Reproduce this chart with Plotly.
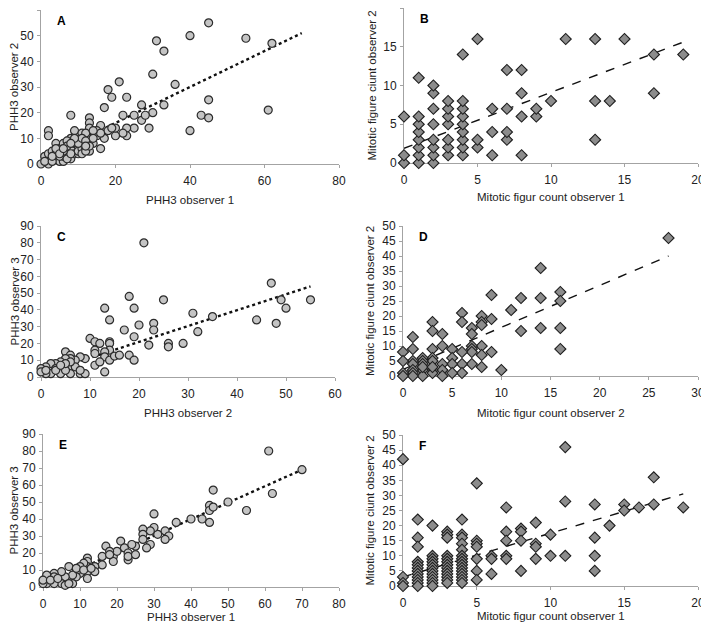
import plotly.graph_objects as go

# ---------------- DATA ----------------
# Panel A: PHH3 observer 1 (x) vs observer 2 (y)
A_x = [45, 40, 55, 62, 31, 33, 30, 36, 21, 18, 19, 23, 17, 27, 33, 45, 61, 43, 45, 40, 30, 27, 28, 29, 25, 22, 25, 23, 23, 22, 20, 20, 18, 16, 16, 17, 13, 13, 13, 13, 8, 2, 2, 9, 11, 8, 15, 15, 14, 16, 19, 12, 14,
       0, 1, 2, 2, 2, 3, 4, 4, 5, 6, 5, 6, 6, 7, 7, 8, 8, 9, 9, 10, 10, 10, 11, 11, 12, 12, 3, 4, 1, 3, 5, 7, 8, 10, 11, 12, 9, 6, 4, 3, 5, 7, 8, 6, 13, 14, 12]
A_y = [55, 50, 49, 47, 48, 44, 35, 31, 32, 29, 26, 26, 22, 23, 23, 25, 21, 19, 18, 13, 20, 17, 19, 14, 19, 19, 14, 14, 11, 12, 11, 14, 13, 15, 6, 10, 18, 16, 14, 5, 19, 13, 11, 13, 12, 10, 13, 11, 8, 12, 14, 12, 13,
       0, 3, 4, 1, 0, 5, 8, 2, 6, 8, 1, 1, 3, 5, 9, 6, 2, 4, 8, 7, 4, 5, 6, 4, 6, 5, 2, 4, 1, 1, 3, 2, 4, 8, 10, 9, 10, 5, 6, 3, 4, 7, 8, 6, 7, 10, 7]
A_trend_x = [0, 70]
A_trend_y = [2, 51]

# Panel B: mitotic figure count observer 1 (x) vs observer 2 (y)
B_x = [0, 0, 0,
       1, 1, 1, 1, 1, 1, 1, 1,
       2, 2, 2, 2, 2, 2, 2, 2,
       3, 3, 3, 3, 3, 3, 3,
       4, 4, 4, 4, 4, 4, 4, 4, 4,
       5, 5, 5, 6, 6, 6, 7, 7, 7, 7, 8, 8, 8, 8, 9, 9, 10, 11, 13, 13, 13, 14, 15, 17, 17, 19]
B_y = [0, 1, 6,
       0, 1, 2, 3, 4, 5, 6, 11,
       0, 1, 2, 3, 5, 7, 9, 10,
       1, 2, 3, 5, 6, 7, 8,
       1, 2, 3, 4, 5, 6, 7, 8, 14,
       2, 3, 16, 1, 4, 7, 3, 4, 7, 12, 1, 6, 9, 12, 6, 7, 8, 16, 3, 8, 16, 8, 16, 9, 14, 14]
B_trend_x = [0, 19]
B_trend_y = [1.9, 15.6]

# Panel C: PHH3 observer 2 (x) vs observer 3 (y)
C_x = [21, 47, 49, 55, 50, 44, 48, 35, 31, 32, 29, 26, 26, 25, 23, 23, 22, 20, 19, 18, 19, 18, 19, 17, 13, 14, 14, 14, 14, 13, 13, 14, 13, 15, 16,
       10, 11, 12, 11, 11, 11, 12, 9, 8, 7, 5, 6, 6, 5, 4, 3, 2, 1, 0, 3, 4, 5, 6, 7, 8, 9, 8, 6, 4, 2, 1, 0, 3, 5, 6, 5, 4, 1]
C_y = [80, 56, 46, 46, 41, 34, 32, 36, 38, 27, 20, 20, 18, 46, 32, 28, 19, 31, 41, 48, 24, 13, 10, 28, 41, 34, 21, 20, 16, 15, 12, 10, 3, 12.5, 13,
       23, 21, 20, 16, 14, 7, 9, 11, 12, 10, 15, 13, 11, 11, 9, 8, 8, 6, 5, 5, 6, 6, 6, 6, 2, 2, 4, 2, 2, 2, 2, 3, 4, 4, 9, 8, 7, 4]
C_trend_x = [0, 55]
C_trend_y = [2, 54]

# Panel D: mitotic figure count observer 2 (x) vs observer 2 (y)
D_x = [27, 14, 9, 12, 14, 16, 16, 11, 6, 6, 3, 3, 8, 8, 8, 7, 7, 9, 12, 14, 16, 16, 10, 9, 8, 8, 8, 7, 7, 7, 7, 6, 6, 6,
       5, 5, 5, 5, 4, 4, 4, 4, 4, 3, 3, 3, 3, 3, 2, 2, 2, 2, 2, 1, 1, 1, 1, 1, 1, 1, 0, 0, 0, 0, 2, 3]
D_y = [46, 36, 27, 26, 26, 28, 25, 22, 21, 18, 18, 15, 20, 18, 17, 16, 14, 19, 15, 16, 16, 9, 2, 8, 10, 7, 3, 10, 9, 8, 4, 8, 4, 1,
       9, 6, 4, 1, 14, 10, 4, 2, 0, 9, 6, 5, 2, 1, 6, 5, 4, 2, 0, 13, 9, 5, 4, 2, 1, 0, 8, 5, 1, 0, 3, 3]
D_trend_x = [0, 27]
D_trend_y = [2.2, 40]

# Panel E: PHH3 observer 1 (x) vs observer 3 (y)
E_x = [61, 70, 62, 46, 55, 50, 45, 45, 46, 45, 43, 40, 36, 30, 33, 34, 33, 31, 30, 29, 29, 27, 27, 27, 28, 21, 17, 16, 19, 19, 22, 23, 23, 23, 25, 25, 24, 20, 18, 18,
       16, 14, 14, 12, 12, 12, 12, 12, 11, 10, 10, 9, 9, 8, 8, 7, 6, 6, 5, 5, 3, 3, 3, 1, 1, 0, 0, 2, 4, 6, 7, 9, 11, 13]
E_y = [80, 69, 55, 57, 45, 50, 48, 45, 47, 38, 40, 40, 38, 43, 33, 30, 28, 31, 35, 33, 25, 34, 31, 28, 23, 27, 24, 18, 18, 15, 23, 20, 16, 18, 19, 24, 25, 21, 21, 19,
       13, 12, 9, 17, 15, 12, 9, 5, 14, 8, 12, 9, 6, 7, 2, 12, 4, 6, 9, 2, 8, 6, 2, 7, 2, 2, 4, 4, 5, 1, 2, 11, 10, 11]
E_trend_x = [0, 70]
E_trend_y = [1, 69]

# Panel F: mitotic figure count observer 1 (x) vs observer 2 (y)
F_x = [0, 0, 0, 0,
       1, 1, 1, 1, 1, 1, 1, 1, 1, 1, 1, 1,
       2, 2, 2, 2, 2, 2, 2, 2, 2, 2, 2, 2,
       3, 3, 3, 3, 3, 3, 3, 3, 3, 3, 3, 3, 3,
       4, 4, 4, 4, 4, 4, 4, 4, 4, 4, 4, 4, 4, 4, 4,
       5, 5, 5, 5, 5, 5, 5, 6, 6, 6, 7, 7, 7, 7, 7, 8, 8, 8, 8, 9, 9, 9, 9, 10, 10,
       11, 11, 11, 13, 13, 13, 13, 14, 15, 15, 16, 17, 17, 19]
F_y = [42, 3, 1, 0,
       22, 16, 13, 8, 7, 6, 5, 4, 3, 2, 1, 0,
       20, 10, 9, 8, 7, 6, 5, 4, 3, 2, 1, 0,
       18, 17, 16, 10, 9, 8, 7, 6, 5, 4, 3, 2, 1,
       22, 17, 16, 14, 12, 10, 9, 8, 7, 6, 5, 4, 3, 2, 1,
       34, 15, 14, 13, 9, 5, 2, 10, 9, 4, 26, 18, 15, 10, 9, 19, 18, 15, 5, 21, 14, 13, 9, 17, 10,
       46, 28, 10, 27, 16, 10, 5, 20, 27, 25, 26, 36, 27, 26]
F_trend_x = [0, 19]
F_trend_y = [3, 30.5]

# ---------------- FIGURE ----------------
OFF = 8                      # default page body margin
W, H = 709 - OFF, 628 - OFF  # figure size that fits the window
FONT = "Liberation Sans, Arial, sans-serif"
AXIS_COLOR = "#a3a3a3"
TEXT_COLOR = "#222222"


def px_x(p):
    return (p - OFF) / W


def px_y(p):
    return 1 - (p - OFF) / H


fig = go.Figure()

# key, x, y, trend x, trend y, marker, (left, right, top, bottom) page px,
# xmax, xdtick, ymax, ydtick, x title, y title, x-title gap, y-title x
panels = [
    ("A", A_x, A_y, A_trend_x, A_trend_y, "circle", (41, 339, 10, 164), 80, 20, 60, 10,
     "PHH3 observer 1", "PHH3 observer 2", 36, 14),
    ("B", B_x, B_y, B_trend_x, B_trend_y, "diamond", (404, 698, 8, 163), 20, 5, 20, 5,
     "Mitotic figur count observer 1", "Mitotic figure ciunt observer 2", 34, 371),
    ("C", C_x, C_y, C_trend_x, C_trend_y, "circle", (41, 335, 226, 377), 60, 10, 90, 10,
     "PHH3 observer 2", "PHH3 observer 3", 36, 14),
    ("D", D_x, D_y, D_trend_x, D_trend_y, "diamond", (403, 698, 226, 376), 30, 5, 50, 5,
     "Mitotic figur count observer 2", "Mitotic figure ciunt observer 2", 37, 370),
    ("E", E_x, E_y, E_trend_x, E_trend_y, "circle", (43, 339, 434, 587), 80, 10, 90, 10,
     "PHH3 observer 1", "PHH3 observer 3", 30, 14),
    ("F", F_x, F_y, F_trend_x, F_trend_y, "diamond", (403, 698, 435, 586), 20, 5, 50, 5,
     "Mitotic figur count observer 1", "Mitotic figure ciunt observer 2", 30, 370),
]

annotations = []
for i, (key, xs, ys, tx, ty, sym, box, xmax, xdt, ymax, ydt, xt, yt, xgap, ytx) in enumerate(panels):
    n = i + 1
    xa = "x" if n == 1 else f"x{n}"
    ya = "y" if n == 1 else f"y{n}"
    left, right, top, bottom = box
    if sym == "circle":
        marker = dict(symbol="circle", size=8, color="#c4c4c4", line=dict(color="#2b2b2b", width=1.2))
        line = dict(color="#111111", width=2.4, dash="dot")
    else:
        marker = dict(symbol="diamond", size=8.5, color="#8c8c8c", line=dict(color="#1e1e1e", width=1.1))
        line = dict(color="#111111", width=1.4, dash="dash")
    fig.add_trace(go.Scatter(x=tx, y=ty, mode="lines", line=line, xaxis=xa, yaxis=ya,
                             showlegend=False, hoverinfo="skip"))
    fig.add_trace(go.Scatter(x=xs, y=ys, mode="markers", marker=marker, xaxis=xa, yaxis=ya,
                             showlegend=False, cliponaxis=False))
    axcommon = dict(showgrid=False, zeroline=False, showline=True, linecolor=AXIS_COLOR, linewidth=1,
                    ticks="outside", ticklen=3, tickcolor=AXIS_COLOR, tickwidth=1,
                    tickfont=dict(family=FONT, size=12, color=TEXT_COLOR), layer="below traces",
                    fixedrange=True, automargin=False)
    xname = "xaxis" if n == 1 else f"xaxis{n}"
    yname = "yaxis" if n == 1 else f"yaxis{n}"
    fig.layout[xname] = dict(domain=[px_x(left), px_x(right)], range=[0, xmax], dtick=xdt, tick0=0,
                             anchor=ya, ticklabelstandoff=3, **axcommon)
    fig.layout[yname] = dict(domain=[px_y(bottom), px_y(top)], range=[0, ymax], dtick=ydt, tick0=0,
                             anchor=xa, ticklabelstandoff=1, **axcommon)
    annotations.append(dict(text=f"<b>{key}</b>", xref="paper", yref="paper",
                            x=px_x(left + 14), y=px_y(top + 11), xanchor="left", yanchor="middle",
                            showarrow=False, font=dict(family=FONT, size=12, color="#000000")))
    annotations.append(dict(text=xt, xref="paper", yref="paper",
                            x=px_x((left + right) / 2), y=px_y(bottom + xgap), xanchor="center",
                            yanchor="middle", showarrow=False,
                            font=dict(family=FONT, size=11.5, color=TEXT_COLOR)))
    annotations.append(dict(text=yt, xref="paper", yref="paper",
                            x=px_x(ytx), y=px_y((top + bottom) / 2), xanchor="center",
                            yanchor="middle", textangle=-90, showarrow=False,
                            font=dict(family=FONT, size=11.5, color=TEXT_COLOR)))

fig.update_layout(width=W, height=H, margin=dict(l=0, r=0, t=0, b=0, autoexpand=False),
                  paper_bgcolor="white", plot_bgcolor="white", annotations=annotations,
                  font=dict(family=FONT, size=12, color=TEXT_COLOR))

fig.write_html("out.html")
